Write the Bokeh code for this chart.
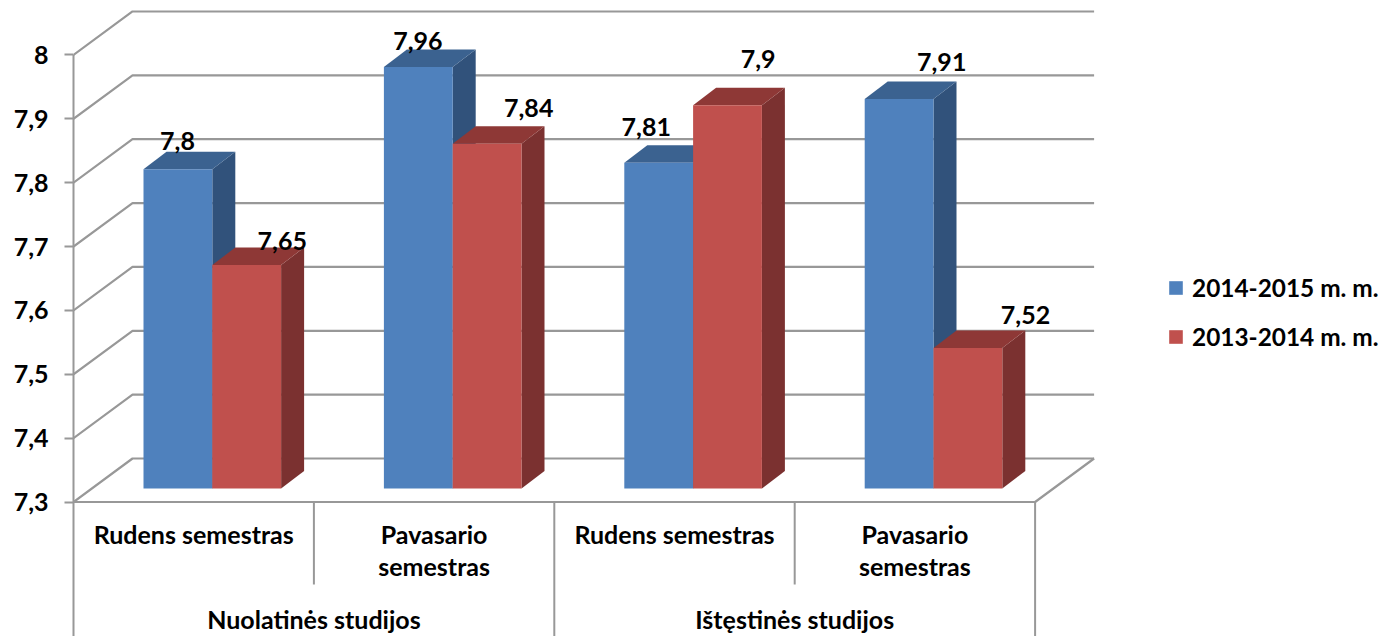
from bokeh.plotting import figure
from bokeh.models import Range1d, LinearAxis, FixedTicker, Legend, LegendItem, ColumnDataSource
from bokeh.core.properties import value
from bokeh.embed import file_html
from bokeh.resources import INLINE

# --- data ---
categories = ["Rudens semestras", "Pavasario\nsemestras", "Rudens semestras", "Pavasario\nsemestras"]
groups = ["Nuolatinės studijos", "Ištęstinės studijos"]
series_names = ["2014-2015 m. m.", "2013-2014 m. m."]
values_2014 = [7.8, 7.96, 7.81, 7.91]
values_2013 = [7.65, 7.84, 7.9, 7.52]
labels_2014 = ["7,8", "7,96", "7,81", "7,91"]
labels_2013 = ["7,65", "7,84", "7,9", "7,52"]
y_ticks = [7.3, 7.4, 7.5, 7.6, 7.7, 7.8, 7.9, 8.0]
y_tick_labels = ["7,3", "7,4", "7,5", "7,6", "7,7", "7,8", "7,9", "8"]

# --- layout constants ---
FONT = "Lato"
W, H = 1388, 636
PX_X = 240.4           # pixels per category
PX_Y = 638.6           # pixels per value unit
AXIS_X_PX, AXIS_Y_PX = 73, 501.5
BASE = 7.3
GRID = "#989898"


def x_of(px):
    return (px - AXIS_X_PX) / PX_X


def y_of(py):
    return BASE + (AXIS_Y_PX - py) / PX_Y


dx_wall = 59 / PX_X
dy_wall = 43.5 / PX_Y
dy_floor = 13.5 / PX_Y     # bars stand this far behind the front edge
dx_depth = 23 / PX_X
dy_depth = 17.5 / PX_Y
bar_w = 68.8 / PX_X
bar_shift = 18.6 / PX_X

p = figure(width=W, height=H, output_backend="svg", toolbar_location=None,
           x_range=Range1d(0, x_of(W)),
           y_range=Range1d(y_of(H), y_of(0)),
           min_border_left=AXIS_X_PX, min_border_right=0, min_border_top=0, min_border_bottom=0,
           x_axis_type=None, y_axis_type=None, outline_line_color=None)
p.grid.visible = False

# value axis (its line runs on below the floor as the outer divider)
bottom = y_of(H)
yax = LinearAxis(ticker=FixedTicker(ticks=y_ticks), bounds=(bottom, 8.0),
                 major_label_overrides=dict(zip(y_ticks, y_tick_labels)),
                 major_tick_out=9, major_tick_in=0, minor_tick_out=0, minor_tick_in=0,
                 major_label_standoff=16,
                 axis_line_color=GRID, axis_line_width=2,
                 major_tick_line_color=GRID, major_tick_line_width=2,
                 major_label_text_font=FONT, major_label_text_font_style="bold",
                 major_label_text_font_size="25px", major_label_text_color="#000000")
p.add_layout(yax, "left")

# walls and floor
n = len(categories)
for v in y_ticks:
    p.line([0, dx_wall, n + dx_wall], [v, v + dy_wall, v + dy_wall], line_color=GRID, line_width=2.2)
p.line([0, n, n + dx_wall], [BASE, BASE, BASE + dy_wall], line_color=GRID, line_width=2.2)

# category dividers below the floor
mid = y_of(584)
for i in range(1, n + 1):
    p.segment([i], [BASE], [i], [bottom if i % 2 == 0 else mid], line_color=GRID, line_width=2)

# bars with depth
base = BASE + dy_floor
colors = [("#4F81BD", "#3B6290", "#31527B"), ("#C0504D", "#8E3836", "#7B3130")]
legend_items = []
for s, vals in enumerate([values_2014, values_2013]):
    front, top, side = colors[s]
    for i, v in enumerate(vals):
        x0 = i + 0.5 + bar_shift - bar_w + s * bar_w
        x1 = x0 + bar_w
        yt = v + dy_floor
        p.patch([x1, x1 + dx_depth, x1 + dx_depth, x1],
                [base, base + dy_depth, yt + dy_depth, yt], fill_color=side, line_color=None)
        p.patch([x0, x0 + dx_depth, x1 + dx_depth, x1],
                [yt, yt + dy_depth, yt + dy_depth, yt], fill_color=top, line_color=None)
        r = p.quad(left=[x0], right=[x1], bottom=[base], top=[yt], fill_color=front, line_color=None)
        if i == 0:
            legend_items.append(LegendItem(label=series_names[s], renderers=[r]))

# data labels (pixel nudges mimic hand-placed labels in the original)
lab_src = ColumnDataSource(dict(
    x=[i + 0.5 + bar_shift - bar_w + s * bar_w for s in range(2) for i in range(n)],
    y=[v + dy_floor for v in values_2014 + values_2013],
    t=labels_2014 + labels_2013,
    xo=[34, 34, 22, 77, 70, 76, 65, 92],
    yo=[-28, -26, -36, -37, -24, -36, -46, -33],
))
p.text("x", "y", text="t", source=lab_src, x_offset="xo", y_offset="yo",
       text_align="center", text_baseline="middle", text_font=value(FONT),
       text_font_style="bold", text_font_size="25px", text_color="#000000")

# category labels, one text per line
line_gap = 32
xs, ys, ts = [], [], []
for i, c in enumerate(categories):
    for k, part in enumerate(c.split("\n")):
        xs.append(i + 0.5)
        ys.append(y_of(533 + k * line_gap))
        ts.append(part)
p.text(xs, ys, text=ts, text_align="center", text_baseline="middle", text_font=value(FONT),
       text_font_style="bold", text_font_size="25px", text_color="#000000")
p.text([1, 3], [y_of(618)] * 2, text=groups,
       text_align="center", text_baseline="middle", text_font=value(FONT), text_font_style="bold",
       text_font_size="25px", text_color="#000000")

legend = Legend(items=legend_items, location=(1094, H - 351),
                background_fill_alpha=0, border_line_color=None,
                glyph_width=17, glyph_height=17, label_standoff=8, spacing=20,
                margin=0, padding=8, label_height=25,
                label_text_font=FONT, label_text_font_style="bold",
                label_text_font_size="24.4px", label_text_color="#000000")
p.add_layout(legend, "center")

open("out.html", "w").write(file_html(p, INLINE))
